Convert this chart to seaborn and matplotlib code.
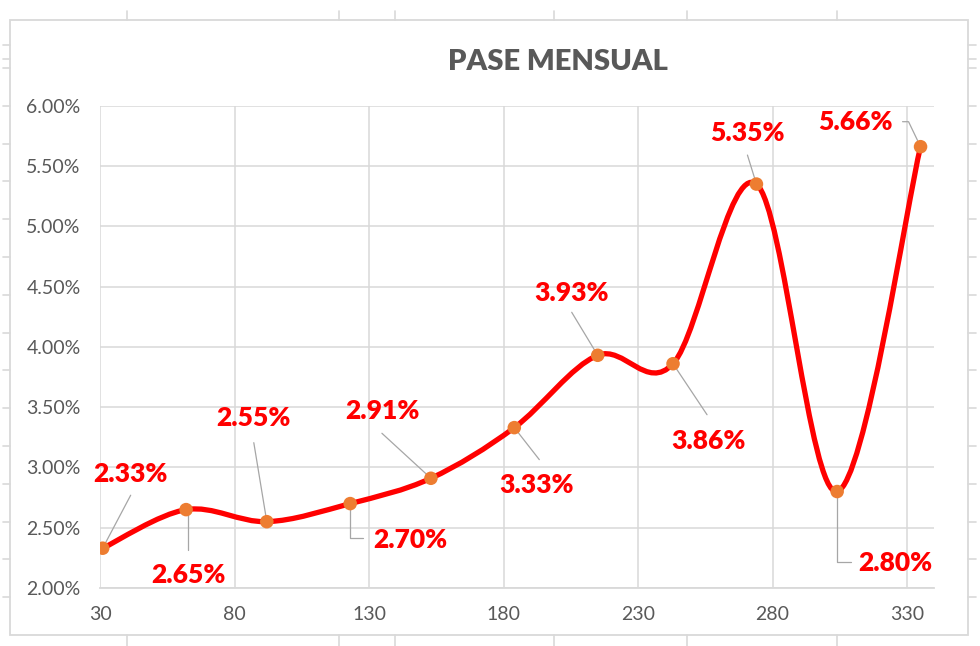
import numpy as np
import matplotlib
matplotlib.use("Agg")
import matplotlib.pyplot as plt
import seaborn as sns
import pandas as pd
from matplotlib.path import Path
from matplotlib.patches import PathPatch, Rectangle
from matplotlib.lines import Line2D
import matplotlib.transforms as mtransforms

# ---- data ----
days = [31, 62, 92, 123, 153, 184, 215, 243, 274, 304, 335]
pase = [2.33, 2.65, 2.55, 2.70, 2.91, 3.33, 3.93, 3.86, 5.35, 2.80, 5.66]
x_ticks = [30, 80, 130, 180, 230, 280, 330]
y_ticks = [2.0, 2.5, 3.0, 3.5, 4.0, 4.5, 5.0, 5.5, 6.0]
title = "PASE MENSUAL"

# ---- layout (pixel offsets of labels / leader lines from each point, y up) ----
label_off = [(28, 74), (2, -65), (-13, 104), (60, -36), (-48, 67), (22, -57),
             (-26, 62), (35, -77), (-9, 51), (58, -71), (-65, 25)]
leaders = [
    [(28, 53), (0, 0)],
    [(2, -40), (2, 0)],
    [(-13, 79), (0, 0)],
    [(0, 0), (0, -34), (13, -34)],
    [(-49, 45), (0, 0)],
    [(0, 0), (25, -32)],
    [(-26, 43), (0, 0)],
    [(0, 0), (34, -51)],
    [(-9, 29), (0, 0)],
    [(0, 0), (0, -70), (14, -70)],
    [(-18, 25), (-12, 25), (0, 0)],
]

sns.set_theme(style="whitegrid")
plt.rcParams['font.family'] = ['Lato', 'DejaVu Sans']

W, H = 980, 646
fig = plt.figure(figsize=(W / 100, H / 100), dpi=100)
fig.patch.set_facecolor("white")

# chart frame and spreadsheet cell border stubs
grey = "#d9d9d9"
fig.add_artist(Rectangle((10 / W, 1 - 635 / H), (967.5 - 10) / W, (635 - 19.5) / H,
                         transform=fig.transFigure, fill=False, edgecolor=grey, lw=1.3))
for xs in [127, 339, 395, 554, 687, 837]:
    fig.add_artist(Line2D([xs / W, xs / W], [1 - 11 / H, 1 - 19.5 / H], transform=fig.transFigure, color=grey, lw=1.2))
    fig.add_artist(Line2D([xs / W, xs / W], [1 - 635 / H, 0], transform=fig.transFigure, color=grey, lw=1.2))
for ys in [45, 59] + [68 + 37.8 * k for k in range(15)]:
    fig.add_artist(Line2D([3 / W, 10 / W], [1 - ys / H] * 2, transform=fig.transFigure, color=grey, lw=1.2))
    fig.add_artist(Line2D([967.5 / W, 976 / W], [1 - ys / H] * 2, transform=fig.transFigure, color=grey, lw=1.2))

ax = fig.add_axes([100 / W, (H - 588) / H, (934 - 100) / W, (588 - 105.7) / H])
ax.set_facecolor("white")
ax.set_xlim(30, 340)
ax.set_ylim(2.0, 6.0)
ax.set_xticks(x_ticks)
ax.set_yticks(y_ticks)
ax.set_xticklabels([str(t) for t in x_ticks])
ax.set_yticklabels([f"{t:.2f}%" for t in y_ticks])
ax.grid(True, color=grey, lw=1.1)
for s in ["top", "right", "left"]:
    ax.spines[s].set_visible(False)
ax.spines["bottom"].set_color(grey)
ax.spines["bottom"].set_linewidth(1.3)
ax.tick_params(axis="both", length=0, labelsize=14, labelcolor="#595959")
ax.tick_params(axis="x", pad=13)
ax.tick_params(axis="y", pad=14)

# smoothed line (Excel-like Catmull-Rom Bezier)
pts = np.column_stack([days, pase]).astype(float)
n = len(pts)
verts = [pts[0]]
codes = [Path.MOVETO]
for i in range(n - 1):
    p0 = pts[i - 1] if i > 0 else pts[i]
    p1 = pts[i]
    p2 = pts[i + 1]
    p3 = pts[i + 2] if i + 2 < n else pts[i + 1]
    verts += [p1 + (p2 - p0) / 6, p2 - (p3 - p1) / 6, p2]
    codes += [Path.CURVE4] * 3
ax.add_patch(PathPatch(Path(verts, codes), facecolor="none", edgecolor="#ff0000",
                       lw=3.8, capstyle="round", joinstyle="round", zorder=3))

# leader lines
for (xv, yv), segs in zip(zip(days, pase), leaders):
    tr = mtransforms.Affine2D() + mtransforms.ScaledTranslation(xv, yv, ax.transData)
    lx = [s[0] for s in segs]
    ly = [s[1] for s in segs]
    ax.add_artist(Line2D(lx, ly, transform=tr, color="#a6a6a6", lw=0.9, zorder=3.5, clip_on=False))

df = pd.DataFrame({"dia": days, "pase": pase})
sns.scatterplot(data=df, x="dia", y="pase", ax=ax, color="#ed7d31", s=95,
                edgecolor="none", linewidth=0, zorder=4, legend=False)
ax.set_xlabel("")
ax.set_ylabel("")

for (xv, yv), (dx, dy) in zip(zip(days, pase), label_off):
    ax.annotate(f"{yv:.2f}%", xy=(xv, yv), xytext=(dx, dy), textcoords="offset pixels",
                ha="center", va="center", color="#ff0000", fontsize=19, fontweight="heavy",
                zorder=5, annotation_clip=False)

fig.text(558 / W, 1 - 62 / H, title, ha="center", va="center", color="#595959",
         fontsize=21, fontweight="heavy")

fig.savefig("out.png", dpi=100)
